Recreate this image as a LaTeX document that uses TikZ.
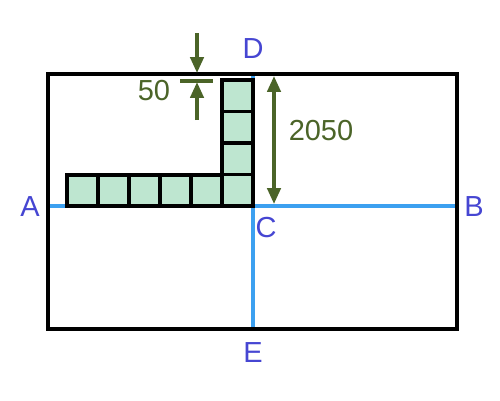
\documentclass[tikz,border=0pt]{standalone}
\usepackage{fontspec}
\setmainfont{Liberation Sans}
\usetikzlibrary{arrows.meta}

\definecolor{edgeblue}{RGB}{60,160,240}
\definecolor{labelblue}{RGB}{70,70,210}
\definecolor{dimgreen}{RGB}{75,100,40}
\definecolor{tilefill}{RGB}{190,230,208}

\begin{document}
\begin{tikzpicture}[x=0.02cm,y=-0.02cm,
  frame/.style={line width=2.2pt},
  axis/.style={edgeblue,line width=2pt},
  tile/.style={draw=black,fill=tilefill,line width=2.2pt},
  pt/.style={labelblue,font=\fontsize{16.5}{20}\selectfont},
  dim/.style={dimgreen,line width=2pt},
  dimtext/.style={dimgreen,font=\fontsize{16.5}{20}\selectfont}]
  \useasboundingbox (0,0) rectangle (500,400);

  % ends of the two axes
  \coordinate (west) at (48,206);
  \coordinate (east) at (457,206);
  \coordinate (north) at (253,74);
  \coordinate (south) at (253,329);

  % point labels
  \node[pt] (A) at (30,207) {A};
  \node[pt] (B) at (474,207) {B};
  \node[pt] (C) at (266,228) {C};
  \node[pt] (D) at (253,49) {D};
  \node[pt] (E) at (253,353) {E};

  % axes
  \draw[axis] (west) -- (east);
  \draw[axis] (north) -- (south);

  % tiles
  \foreach \i in {0,...,3}
    \draw[tile] (222,{80+31.5*\i}) rectangle ++(31,31.5);
  \foreach \i in {0,...,4}
    \draw[tile] ({67+31*\i},175) rectangle ++(31,31);

  % frame
  \draw[frame] (48,74) rectangle (457,329);

  % gap of 50
  \coordinate (tickL) at (180,81);
  \coordinate (tickR) at (213,81);
  \coordinate (upTail) at (197,33);
  \coordinate (upTip) at (197,73);
  \coordinate (lowTail) at (197,120);
  \coordinate (lowTip) at (197,82);
  \draw[dim] (tickL) -- (tickR);
  \draw[dim,-{Triangle[length=9pt,width=7.5pt]}] (upTail) -- (upTip);
  \draw[dim,-{Triangle[length=9pt,width=7.5pt]}] (lowTail) -- (lowTip);
  \node[dimtext] (gap) at (154,91) {50};

  % height 2050
  \coordinate (hTop) at (274,76);
  \coordinate (hBot) at (274,204);
  \draw[dim,{Triangle[length=9pt,width=7.5pt]}-{Triangle[length=9pt,width=7.5pt]}] (hTop) -- (hBot);
  \node[dimtext] (height) at (321,131) {2050};
\end{tikzpicture}
\end{document}
